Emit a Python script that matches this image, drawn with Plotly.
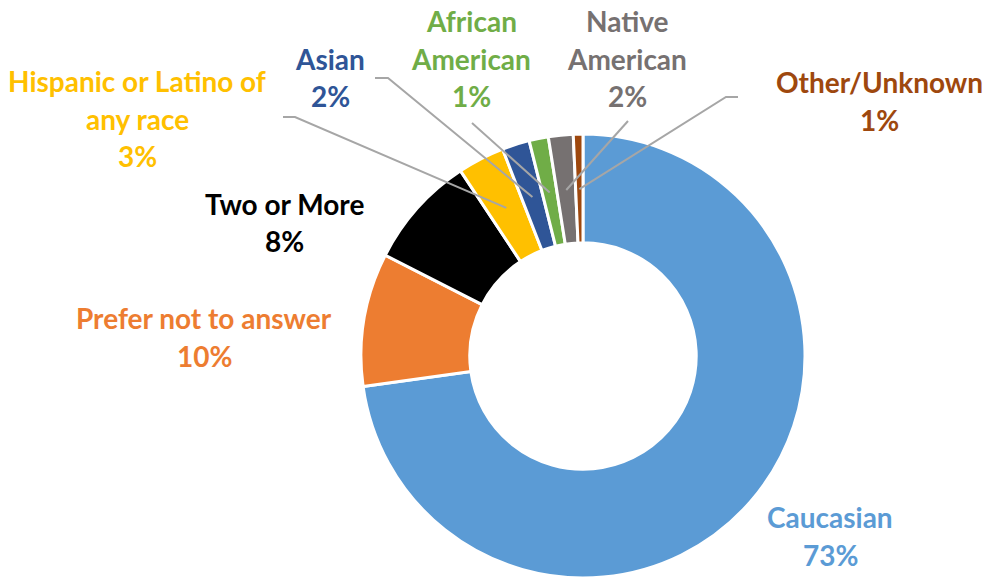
import math
import plotly.graph_objects as go

# data
labels = ["Caucasian", "Prefer not to answer", "Two or More",
          "Hispanic or Latino of any race", "Asian", "African American",
          "Native American", "Other/Unknown"]
values = [72.8, 9.7, 8.2, 3.4, 2.0, 1.4, 1.8, 0.7]
colors = ["#5B9BD5", "#ED7D31", "#000000", "#FFC000",
          "#2F5597", "#70AD47", "#767171", "#9E480E"]
# how each label wraps on the chart
label_lines = [["Caucasian"], ["Prefer not to answer"], ["Two or More"],
               ["Hispanic or Latino of", "any race"], ["Asian"],
               ["African", "American"], ["Native", "American"], ["Other/Unknown"]]

# layout (pixels)
W, H = 989, 579
CX, CY, R = 583, 356, 221
HOLE = 0.51
LINE_GAP = 37.5
label_pos = [(830, 517), (204, 318), (284, 204), (137, 81),
             (330, 59), (471, 21), (627, 21), (879, 82)]
# leader line start points (label side) for the small slices
leader_start = {
    3: [(283, 117), (295, 117)],
    4: [(375, 78), (388, 78)],
    5: [(472, 123)],
    6: [(628, 121)],
    7: [(738, 97), (726, 97)],
}


def px(x):
    return x / W


def py(y):
    return 1 - y / H


# plotly draws the pie a couple of px inside its domain, so pad it a little
pad = 1
fig = go.Figure(go.Pie(
    labels=labels, values=values, sort=False, direction="clockwise",
    rotation=0, hole=HOLE, textinfo="none", showlegend=False,
    marker=dict(colors=colors, line=dict(color="white", width=3)),
    domain=dict(x=[px(CX - R - pad), px(CX + R + pad)],
                y=[py(CY + R + pad), py(CY - R - pad)]),
))

total = sum(values)
pcts = [v / total * 100 for v in values]

annotations = []
for i, lines in enumerate(label_lines):
    x0, y0 = label_pos[i]
    texts = lines + [f"{round(pcts[i])}%"]
    for k, t in enumerate(texts):
        annotations.append(dict(
            text=f"<b>{t}</b>", x=px(x0), y=py(y0 + k * LINE_GAP),
            xref="paper", yref="paper", xanchor="center", yanchor="middle",
            showarrow=False, font=dict(family="Lato", size=28, color=colors[i]),
        ))

# leader lines end at the middle of the ring, at each slice's mid angle
shapes = []
cum = 0
r_mid = R * (1 + HOLE) / 2
for i, v in enumerate(values):
    mid = (cum + v / 2) / total * 2 * math.pi
    cum += v
    if i not in leader_start:
        continue
    ex, ey = CX + r_mid * math.sin(mid), CY - r_mid * math.cos(mid)
    pts = leader_start[i] + [(ex, ey)]
    path = "M " + " L ".join(f"{px(a):.5f},{py(b):.5f}" for a, b in pts)
    shapes.append(dict(type="path", path=path, xref="paper", yref="paper",
                       line=dict(color="#A6A6A6", width=2)))

fig.update_layout(
    width=W, height=H, margin=dict(l=0, r=0, t=0, b=0),
    paper_bgcolor="white", plot_bgcolor="white",
    annotations=annotations, shapes=shapes,
)

# drop the browser's default body margin so the figure sits at the corner
fig.write_html("out.html", config={"displayModeBar": False},
               post_script="document.body.style.margin = '0';")
